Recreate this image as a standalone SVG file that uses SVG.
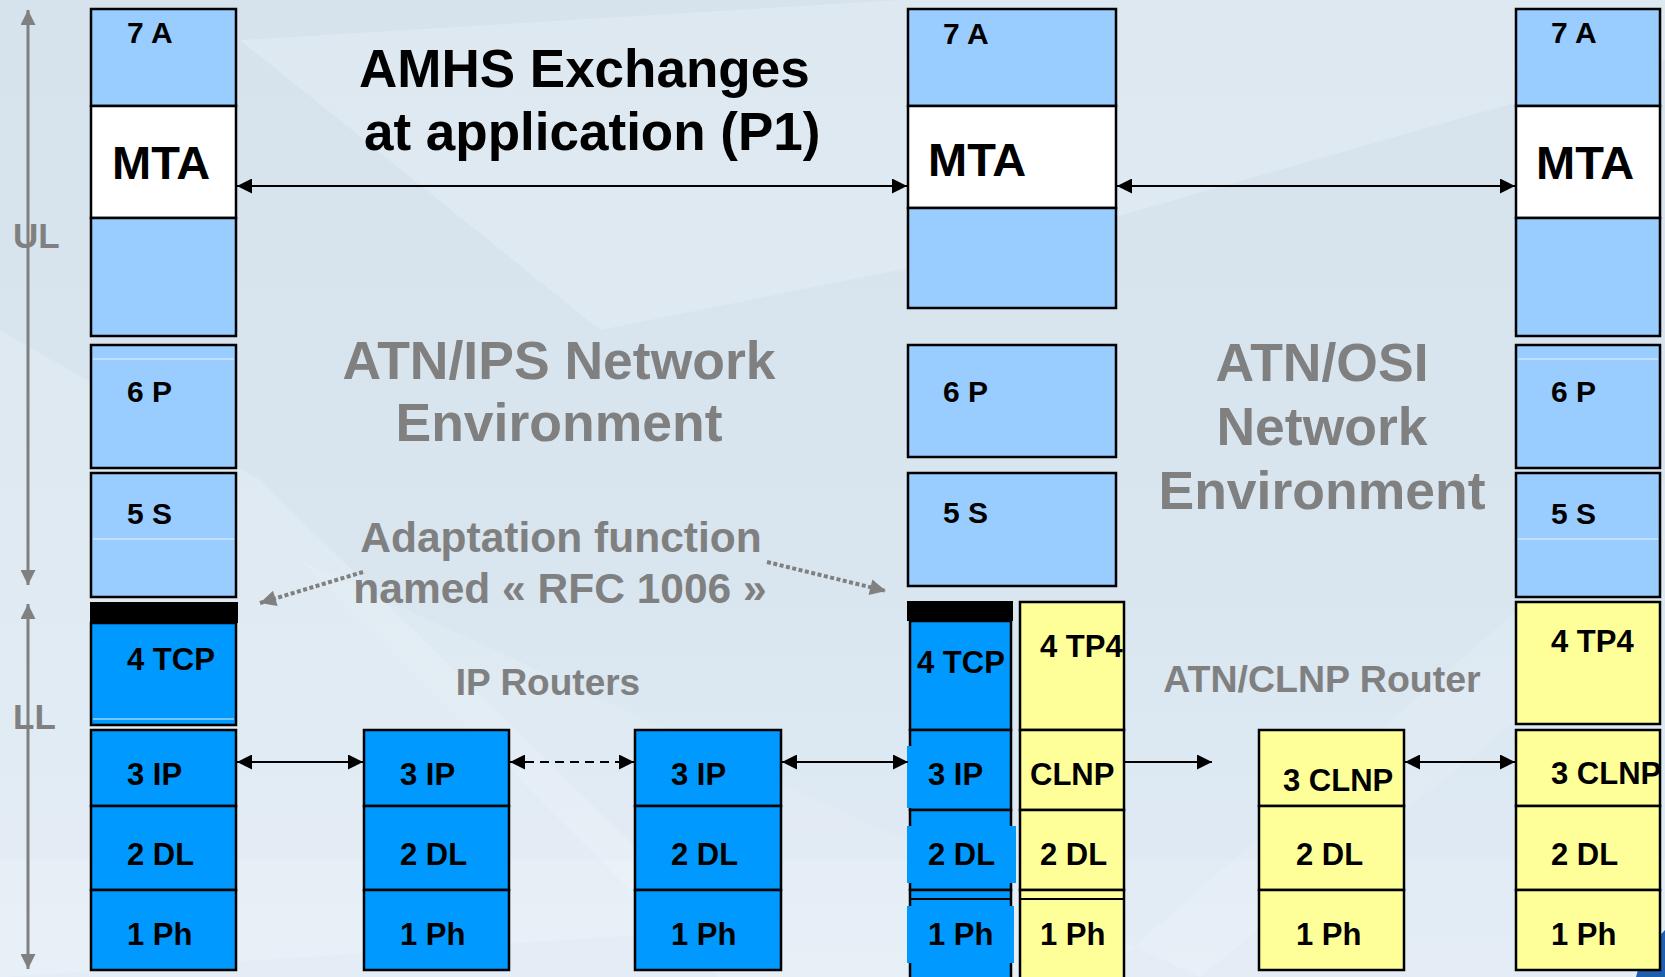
<svg xmlns="http://www.w3.org/2000/svg" width="1665" height="977" viewBox="0 0 1665 977">
<defs>
<linearGradient id="bg" x1="0" y1="0" x2="0" y2="1">
<stop offset="0" stop-color="#D6E3ED"/>
<stop offset="0.6" stop-color="#D9E6F0"/>
<stop offset="1" stop-color="#E1EBF5"/>
</linearGradient>
<marker id="ah" viewBox="0 0 10 10" refX="10" refY="5" markerUnits="userSpaceOnUse" markerWidth="15" markerHeight="15" orient="auto-start-reverse">
<path d="M0,0 L10,5 L0,10 z" fill="#000"/>
</marker>
<marker id="gh" viewBox="0 0 10 10" refX="10" refY="5" markerUnits="userSpaceOnUse" markerWidth="16" markerHeight="15" orient="auto-start-reverse">
<path d="M0,0 L10,5 L0,10 z" fill="#808080"/>
</marker>
<marker id="dh" viewBox="0 0 10 10" refX="10" refY="5" markerUnits="userSpaceOnUse" markerWidth="18" markerHeight="16" orient="auto">
<path d="M0,0 L10,5 L0,10 z" fill="#808080"/>
</marker>
</defs>
<style>
.lb{fill:#99CCFF;stroke:#000;stroke-width:2.5}
.wh{fill:#FFFFFF;stroke:#000;stroke-width:2.5}
.bb{fill:#0099FF;stroke:#000;stroke-width:2.5}
.yl{fill:#FFFF99;stroke:#000;stroke-width:2.5}
.bar{fill:#000}
.t{font-family:"Liberation Sans",Arial,sans-serif;font-weight:bold;fill:#000}
.s30{font-size:30px}
.s31{font-size:31px}
.s46{font-size:47px}
.g{font-family:"Liberation Sans",Arial,sans-serif;font-weight:bold;fill:#808080}
.c{text-anchor:middle}
.ln{stroke:#000;stroke-width:2;fill:none}
.ax{stroke:#808080;stroke-width:3;fill:none}
.dot{stroke:#808080;stroke-width:4;fill:none;stroke-dasharray:4 2.5}
.hl{stroke:#E8F2FF;stroke-width:1}
</style>
<g id="background">
<rect x="0" y="0" width="1665" height="977" fill="url(#bg)"/>
<polygon points="240,40 900,0 1665,0 1665,60 1000,250 600,330" fill="#FFFFFF" opacity="0.18"/>
<polygon points="0,330 260,480 720,930 0,977" fill="#FFFFFF" opacity="0.16"/>
<polygon points="300,560 740,1000 1100,977 1665,480 1665,600 1200,977" fill="#FFFFFF" opacity="0.12"/>
<polygon points="0,860 1665,860 1665,977 0,977" fill="#FFFFFF" opacity="0.12"/>
<path d="M1665,930 C1650,945 1640,960 1636,977 L1665,977 z" fill="#1F5FAF"/>
</g>
<g id="axis-ul">
<line class="ax" x1="28" y1="10" x2="28" y2="585" marker-start="url(#gh)" marker-end="url(#gh)"/>
<text class="g" x="13" y="248" font-size="35">UL</text>
</g>
<g id="axis-ll">
<line class="ax" x1="28" y1="604" x2="28" y2="969" marker-start="url(#gh)" marker-end="url(#gh)"/>
<text class="g" x="13" y="729" font-size="35">LL</text>
</g>
<g id="labels">
<text class="t" x="359" y="87" font-size="53">AMHS Exchanges</text>
<text class="t" x="364" y="150" font-size="53">at application (P1)</text>
<text class="g c" x="559" y="379" font-size="53.5">ATN/IPS Network</text>
<text class="g c" x="559" y="441" font-size="53.5">Environment</text>
<text class="g c" x="1322" y="381" font-size="53.5">ATN/OSI</text>
<text class="g c" x="1322" y="445" font-size="53.5">Network</text>
<text class="g c" x="1322" y="509" font-size="53.5">Environment</text>
<text class="g c" x="561" y="552" font-size="42.5">Adaptation function</text>
<text class="g c" x="560" y="603" font-size="42.5">named « RFC 1006 »</text>
<text class="g c" x="548" y="695" font-size="37">IP Routers</text>
<text class="g c" x="1322" y="692" font-size="37.5">ATN/CLNP Router</text>
</g>
<g id="stack-left">
<rect class="lb" x="91" y="9" width="145" height="97"/>
<rect class="wh" x="91" y="106" width="145" height="112"/>
<rect class="lb" x="91" y="218" width="145" height="118"/>
<rect class="lb" x="91" y="345" width="145" height="123"/>
<line class="hl" x1="93" y1="359" x2="234" y2="359"/>
<rect class="lb" x="91" y="473" width="145" height="124"/>
<line class="hl" x1="93" y1="539" x2="234" y2="539"/>
<rect class="bb" x="91" y="623" width="145" height="102"/>
<line class="hl" x1="93" y1="719" x2="234" y2="719"/>
<rect class="bar" x="90" y="602" width="148" height="21"/>
<rect class="bb" x="91" y="730" width="145" height="76"/>
<rect class="bb" x="91" y="806" width="145" height="84"/>
<rect class="bb" x="91" y="890" width="145" height="80"/>
<text class="t s30" x="127" y="43">7 A</text>
<text class="t s46" x="112" y="179">MTA</text>
<text class="t s30" x="127" y="402">6 P</text>
<text class="t s30" x="127" y="524">5 S</text>
<text class="t s31" x="127" y="670">4 TCP</text>
<text class="t s31" x="127" y="785">3 IP</text>
<text class="t s31" x="127" y="865">2 DL</text>
<text class="t s31" x="127" y="945">1 Ph</text>
</g>
<g id="router-ip-1">
<rect class="bb" x="364" y="730" width="145" height="76"/>
<rect class="bb" x="364" y="806" width="145" height="84"/>
<rect class="bb" x="364" y="890" width="145" height="80"/>
<text class="t s31" x="400" y="785">3 IP</text>
<text class="t s31" x="400" y="865">2 DL</text>
<text class="t s31" x="400" y="945">1 Ph</text>
</g>
<g id="router-ip-2">
<rect class="bb" x="635" y="730" width="146" height="76"/>
<rect class="bb" x="635" y="806" width="146" height="84"/>
<rect class="bb" x="635" y="890" width="146" height="80"/>
<text class="t s31" x="671" y="785">3 IP</text>
<text class="t s31" x="671" y="865">2 DL</text>
<text class="t s31" x="671" y="945">1 Ph</text>
</g>
<g id="stack-middle">
<rect class="lb" x="908" y="9" width="208" height="97"/>
<rect class="wh" x="908" y="106" width="208" height="102"/>
<rect class="lb" x="908" y="208" width="208" height="100"/>
<rect class="lb" x="908" y="345" width="208" height="112"/>
<rect class="lb" x="908" y="473" width="208" height="113"/>
<text class="t s30" x="943" y="44">7 A</text>
<text class="t s46" x="928" y="176">MTA</text>
<text class="t s30" x="943" y="402">6 P</text>
<text class="t s30" x="943" y="523">5 S</text>
<rect class="bb" x="910" y="621" width="101" height="109"/>
<rect class="bb" x="910" y="730" width="101" height="80"/>
<rect class="bb" x="910" y="810" width="101" height="80"/>
<rect class="bb" x="910" y="890" width="101" height="95"/>
<line class="ln" x1="910" y1="899" x2="1011" y2="899"/>
<rect x="907" y="746" width="5" height="62" fill="#0099FF"/>
<rect x="907" y="826" width="109" height="57" fill="#0099FF"/>
<rect x="907" y="906" width="107" height="57" fill="#0099FF"/>
<rect class="bar" x="907" y="601" width="106" height="20"/>
<rect class="yl" x="1020" y="602" width="104" height="128"/>
<rect class="yl" x="1020" y="730" width="104" height="80"/>
<rect class="yl" x="1020" y="810" width="104" height="80"/>
<rect class="yl" x="1020" y="890" width="104" height="95"/>
<line class="ln" x1="1021" y1="899" x2="1123" y2="899"/>
<text class="t s31" x="917" y="673">4 TCP</text>
<text class="t s31" x="928" y="785">3 IP</text>
<text class="t s31" x="928" y="865">2 DL</text>
<text class="t s31" x="928" y="945">1 Ph</text>
<text class="t s31" x="1040" y="657">4 TP4</text>
<text class="t s31" x="1030" y="785">CLNP</text>
<text class="t s31" x="1040" y="865">2 DL</text>
<text class="t s31" x="1040" y="945">1 Ph</text>
</g>
<g id="router-clnp">
<rect class="yl" x="1259" y="730" width="145" height="76"/>
<rect class="yl" x="1259" y="806" width="145" height="84"/>
<rect class="yl" x="1259" y="890" width="145" height="80"/>
<text class="t s31" x="1283" y="791">3 CLNP</text>
<text class="t s31" x="1296" y="865">2 DL</text>
<text class="t s31" x="1296" y="945">1 Ph</text>
</g>
<g id="stack-right">
<rect class="lb" x="1516" y="9" width="144" height="97"/>
<rect class="wh" x="1516" y="106" width="144" height="112"/>
<rect class="lb" x="1516" y="218" width="144" height="118"/>
<rect class="lb" x="1516" y="345" width="144" height="123"/>
<line class="hl" x1="1518" y1="359" x2="1658" y2="359"/>
<rect class="lb" x="1516" y="473" width="144" height="124"/>
<line class="hl" x1="1518" y1="539" x2="1658" y2="539"/>
<rect class="yl" x="1516" y="602" width="144" height="122"/>
<rect class="yl" x="1516" y="730" width="144" height="76"/>
<rect class="yl" x="1516" y="806" width="144" height="84"/>
<rect class="yl" x="1516" y="890" width="144" height="80"/>
<text class="t s30" x="1551" y="43">7 A</text>
<text class="t s46" x="1536" y="179">MTA</text>
<text class="t s30" x="1551" y="402">6 P</text>
<text class="t s30" x="1551" y="524">5 S</text>
<text class="t s31" x="1551" y="652">4 TP4</text>
<text class="t s31" x="1551" y="784">3 CLNP</text>
<text class="t s31" x="1551" y="865">2 DL</text>
<text class="t s31" x="1551" y="945">1 Ph</text>
</g>
<g id="connectors">
<line class="ln" x1="237" y1="186" x2="907" y2="186" marker-start="url(#ah)" marker-end="url(#ah)"/>
<line class="ln" x1="1117" y1="186" x2="1515" y2="186" marker-start="url(#ah)" marker-end="url(#ah)"/>
<line class="ln" x1="237" y1="762" x2="363" y2="762" marker-start="url(#ah)" marker-end="url(#ah)"/>
<line class="ln" x1="510" y1="762" x2="634" y2="762" stroke-dasharray="9 6" marker-start="url(#ah)" marker-end="url(#ah)"/>
<line class="ln" x1="782" y1="762" x2="908" y2="762" marker-start="url(#ah)" marker-end="url(#ah)"/>
<line class="ln" x1="1125" y1="762" x2="1212" y2="762" marker-end="url(#ah)"/>
<line class="ln" x1="1405" y1="762" x2="1515" y2="762" marker-start="url(#ah)" marker-end="url(#ah)"/>
<line class="dot" x1="363" y1="572" x2="260" y2="603" marker-end="url(#dh)"/>
<line class="dot" x1="767" y1="562" x2="886" y2="591" marker-end="url(#dh)"/>
</g>
</svg>
